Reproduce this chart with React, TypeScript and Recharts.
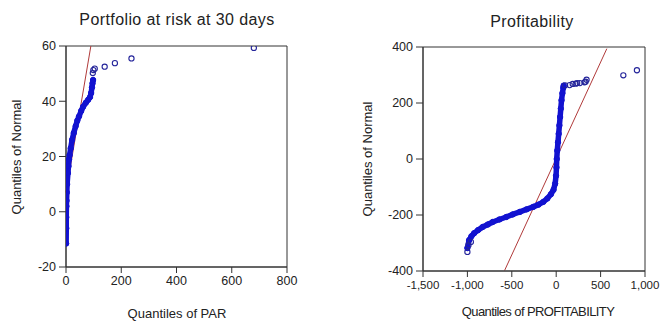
import { ScatterChart, Scatter, XAxis, YAxis, ReferenceLine, ReferenceArea } from 'recharts';

const FONT = '"Liberation Sans", Arial, sans-serif';

// Portfolio at risk: dense body of the QQ plot, then the loose upper points
const parDense = [
  { x: 0.5, y: -11.5 }, { x: 1, y: -6 }, { x: 1, y: -2 }, { x: 1.5, y: 2 }, { x: 2, y: 4 },
  { x: 3, y: 7 }, { x: 4, y: 10 }, { x: 7, y: 14 }, { x: 9, y: 16.5 }, { x: 11, y: 19 },
  { x: 13, y: 20.5 }, { x: 17, y: 23 }, { x: 22, y: 26 }, { x: 28, y: 28.5 }, { x: 35, y: 31 },
  { x: 41, y: 33 }, { x: 47, y: 34.5 }, { x: 55, y: 36.5 }, { x: 62, y: 38 }, { x: 72, y: 39.5 },
  { x: 80, y: 40.5 }, { x: 87, y: 41.5 }, { x: 91, y: 43 }, { x: 94, y: 45 }, { x: 96, y: 46.5 },
  { x: 98, y: 47.7 },
];
const parSparse = [
  { x: 97, y: 50.2 }, { x: 99, y: 51.3 }, { x: 104, y: 51.8 }, { x: 140, y: 52.5 },
  { x: 177, y: 53.8 }, { x: 237, y: 55.5 }, { x: 680, y: 59.3 },
];
const parFit = [{ x: 0, y: 7 }, { x: 90, y: 60 }];
const parXTicks = [0, 200, 400, 600, 800];
const parYTicks = [-20, 0, 20, 40, 60];

// Profitability
const profDense = [
  { x: -1000, y: -318 }, { x: -981, y: -290 }, { x: -955, y: -276 }, { x: -924, y: -265 },
  { x: -880, y: -254 }, { x: -829, y: -243 }, { x: -770, y: -234 }, { x: -715, y: -225 },
  { x: -640, y: -216 }, { x: -562, y: -207 }, { x: -490, y: -198 }, { x: -410, y: -189 },
  { x: -335, y: -180 }, { x: -259, y: -171 }, { x: -200, y: -163 }, { x: -145, y: -153 },
  { x: -100, y: -141 }, { x: -60, y: -126 }, { x: -30, y: -110 }, { x: -12, y: -88 },
  { x: -2, y: -60 }, { x: 3, y: -30 }, { x: 6, y: 0 }, { x: 12, y: 30 }, { x: 20, y: 60 },
  { x: 28, y: 90 }, { x: 36, y: 120 }, { x: 44, y: 150 }, { x: 52, y: 180 }, { x: 60, y: 210 },
  { x: 70, y: 235 }, { x: 80, y: 255 }, { x: 84, y: 262 },
];
const profSparse = [
  { x: -1000, y: -332 }, { x: -988, y: -308 }, { x: -961, y: -296 },
  { x: 100, y: 263 }, { x: 152, y: 264 }, { x: 186, y: 268 }, { x: 220, y: 269 },
  { x: 236, y: 271 }, { x: 266, y: 271 }, { x: 319, y: 274 }, { x: 331, y: 276 },
  { x: 342, y: 283 }, { x: 756, y: 299 }, { x: 909, y: 317 },
];
const profFit = [{ x: -581, y: -398 }, { x: 570, y: 394 }];
const profXTicks = [-1500, -1000, -500, 0, 500, 1000];
const profYTicks = [-400, -200, 0, 200, 400];

const tickStyle = { fontSize: 12.5, fill: '#222', fontFamily: FONT };
const smallTick = { ...tickStyle, fontSize: 11.5 };
const bandLine = { stroke: '#1212d0', strokeWidth: 5.5, strokeLinecap: 'round', strokeLinejoin: 'round' };

const Ring = (props: any) => (
  <circle cx={props.cx} cy={props.cy} r={2.6} fill="none" stroke="#24249a" strokeWidth={1.1} />
);
const DenseDot = (props: any) => (
  <circle cx={props.cx} cy={props.cy} r={2.7} fill="#1212d0" stroke="#1212d0" />
);

function Txt({ x, y, size, rotate, spacing, children }: any) {
  return (
    <div
      style={{
        position: 'absolute', left: x, top: y, whiteSpace: 'nowrap',
        transform: `translate(-50%, -50%)${rotate ? ' rotate(-90deg)' : ''}`,
        fontFamily: FONT, fontSize: size, lineHeight: 1, color: '#222',
        letterSpacing: spacing ?? 0,
      }}
    >
      {children}
    </div>
  );
}

export default function App() {
  return (
    <div style={{ position: 'absolute', left: 0, top: 0, width: 660, height: 324, background: '#fff' }}>
      <div style={{ position: 'absolute', left: 0, top: 0 }}>
        <ScatterChart width={330} height={324} margin={{ top: 46, right: 43, bottom: 27, left: 26 }}>
          <XAxis type="number" dataKey="x" domain={[0, 800]} ticks={parXTicks} height={30}
            tick={tickStyle} tickSize={6} tickMargin={3} stroke="#333" allowDataOverflow />
          <YAxis type="number" dataKey="y" domain={[-20, 60]} ticks={parYTicks} width={40}
            tick={tickStyle} tickSize={7} tickMargin={3} stroke="#333" allowDataOverflow />
          <ReferenceArea x1={0} x2={800} y1={-20} y2={60} fill="none" stroke="#333" />
          <Scatter data={parDense} shape={DenseDot} isAnimationActive={false} line={bandLine} />
          <Scatter data={parSparse} shape={Ring} isAnimationActive={false} />
          <ReferenceLine segment={parFit} stroke="#b03a3a" strokeWidth={1} ifOverflow="visible" />
        </ScatterChart>
      </div>
      <div style={{ position: 'absolute', left: 330, top: 0 }}>
        <ScatterChart width={330} height={324} margin={{ top: 47, right: 15, bottom: 23, left: 53 }}>
          <XAxis type="number" dataKey="x" domain={[-1500, 1000]} ticks={profXTicks} height={30}
            tick={smallTick} tickSize={6} tickMargin={4} stroke="#333" allowDataOverflow
            tickFormatter={(v: number) => v.toLocaleString('en-US')} />
          <YAxis type="number" dataKey="y" domain={[-400, 400]} ticks={profYTicks} width={40}
            tick={tickStyle} tickSize={7} tickMargin={3} stroke="#333" allowDataOverflow />
          <ReferenceArea x1={-1500} x2={1000} y1={-400} y2={400} fill="none" stroke="#333" />
          <Scatter data={profDense} shape={DenseDot} isAnimationActive={false} line={bandLine} />
          <Scatter data={profSparse} shape={Ring} isAnimationActive={false} />
          <ReferenceLine segment={profFit} stroke="#b03a3a" strokeWidth={1} ifOverflow="visible" />
        </ScatterChart>
      </div>
      <Txt x={177} y={20} size={16} spacing={0.4}>Portfolio at risk at 30 days</Txt>
      <Txt x={177} y={313} size={13}>Quantiles of PAR</Txt>
      <Txt x={16} y={157} size={13} rotate>Quantiles of Normal</Txt>
      <Txt x={532} y={22} size={16} spacing={0.4}>Profitability</Txt>
      <Txt x={538} y={311} size={13} spacing={-0.6}>Quantiles of PROFITABILITY</Txt>
      <Txt x={367} y={159} size={13} rotate>Quantiles of Normal</Txt>
    </div>
  );
}
